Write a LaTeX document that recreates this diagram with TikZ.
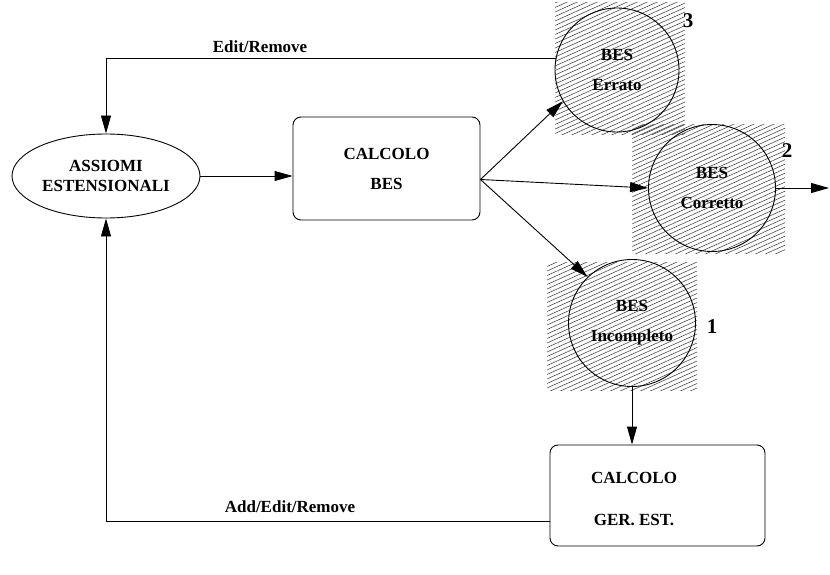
\documentclass[tikz,border=0pt]{standalone}
\usepackage{fontspec}
\setmainfont{Liberation Serif}
\usetikzlibrary{arrows.meta,shapes.geometric,calc}
% hatched backdrop: #1,#2 = top-left corner, #3,#4 = bottom-right corner
\newcommand\tratteggio[4]{%
  \begin{scope}
    \clip (#1,#2) rectangle (#3,#4);
    \foreach \k in {0,...,70}
      \draw[black!80, line width=0.5pt] (#1,#2+\k*4.5) -- ++(#3-#1,-0.45*#3+0.45*#1);
  \end{scope}}
\begin{document}
\begin{tikzpicture}[x=1pt,y=-1pt,
  lbl/.style={font=\bfseries\fontsize{17}{30}\selectfont, align=center, inner sep=0pt},
  numero/.style={font=\bfseries\fontsize{21}{21}\selectfont, inner sep=0pt},
  stato/.style={lbl, circle, draw, line width=0.9pt, minimum size=124pt},
  processo/.style={lbl, draw, rounded corners=8pt, line width=0.9pt},
  freccia/.style={line width=0.9pt, -{Triangle[length=18pt,width=10pt]}}]
\useasboundingbox (0,0) rectangle (830,575);
\fill[white] (0,0) rectangle (830,575);

% hatched areas behind the three result states
\tratteggio{555}{3}{685}{135}
\tratteggio{632}{125}{785}{253}
\tratteggio{547}{262}{697}{390}

% nodes
\node[lbl, ellipse, draw, line width=0.9pt, minimum width=188pt, minimum height=84pt,
      font=\bfseries\fontsize{17}{20}\selectfont] (assiomi) at (106,176) {ASSIOMI\\ESTENSIONALI};
\node[processo, minimum width=187pt, minimum height=103pt] (bes) at (386.5,168.5) {CALCOLO\\BES};
\node[stato] (errato) at (617,70) {BES\\Errato};
\node[stato, minimum size=127pt] (corretto) at (712,188) {BES\\Corretto};
\node[stato, minimum size=127pt] (incompleto) at (632,323) {BES\\Incompleto};
\node[processo, minimum width=215pt, minimum height=101pt] (ger) at (657.5,495.5) {};
\node[lbl, font=\bfseries\fontsize{17}{42}\selectfont] (gertesto) at (634,499) {CALCOLO\\GER. EST.};

% state numbers
\node[numero] (n3) at (688,21) {3};
\node[numero] (n2) at (787,151) {2};
\node[numero] (n1) at (712,327) {1};

% feedback labels
\node[lbl] (ledit) at (260,47) {Edit/Remove};
\node[lbl] (ladd) at (290,507) {Add/Edit/Remove};

% connectors
\draw[freccia] (assiomi.east) -- (assiomi.east -| bes.west);
\coordinate (fan) at ($(bes.east)+(0,11)$);
\draw[freccia] (fan) -- (errato.210);
\draw[freccia] (fan) -- (corretto.180);
\draw[freccia] (fan) -- (incompleto.134);
\coordinate (uscita) at (829,188);
\draw[freccia] (corretto.east) -- (uscita);
\draw[freccia] (incompleto.south) -- (incompleto.south |- ger.north);
\draw[freccia] (errato.169) -| (assiomi.north);
\coordinate (rientro) at ($(ger.south west)+(0,-25)$);
\draw[freccia] (rientro) -| (assiomi.south);
\end{tikzpicture}
\end{document}
